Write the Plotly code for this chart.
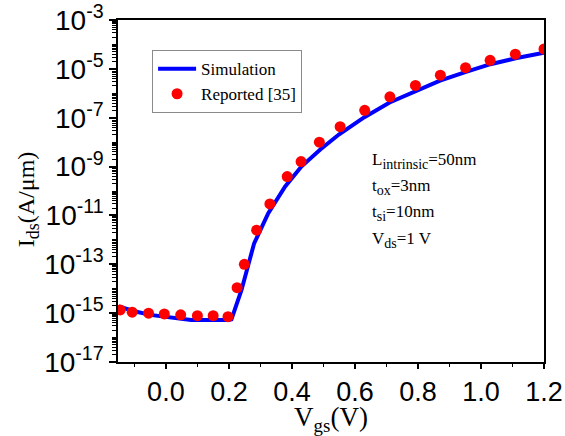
import plotly.graph_objects as go

# Reported drain current (A/um) vs gate voltage (V)
rep_vgs = [-0.145, -0.107, -0.055, -0.005, 0.047, 0.10, 0.15, 0.197, 0.226, 0.249,
           0.288, 0.330, 0.385, 0.429, 0.487, 0.553, 0.631, 0.711, 0.792, 0.871,
           0.951, 1.029, 1.109, 1.2]
rep_ids = [1.35e-15, 1.10e-15, 1.0e-15, 9.3e-16, 8.5e-16, 7.9e-16, 7.9e-16, 7.2e-16,
           1.1e-14, 1.0e-13, 2.5e-12, 2.95e-11, 3.9e-10, 1.6e-9, 1.0e-8, 4.3e-8,
           2.0e-7, 7.2e-7, 2.1e-6, 5.5e-6, 1.12e-5, 2.24e-5, 4.0e-5, 6.5e-5]

# Simulated transfer characteristic
sim_vgs = [-0.15, -0.10, -0.05, 0.0, 0.05, 0.08, 0.20, 0.208, 0.24, 0.28, 0.325,
           0.378, 0.43, 0.49, 0.55, 0.63, 0.71, 0.79, 0.87, 0.95, 1.03, 1.11, 1.2]
sim_ids = [1.9e-15, 1.2e-15, 8.5e-16, 6.9e-16, 5.8e-16, 5.2e-16, 5.2e-16, 5.6e-16,
           8.9e-15, 7.2e-13, 1.23e-11, 1.5e-10, 1.0e-9, 5.0e-9, 2.1e-8, 1.05e-7,
           4.2e-7, 1.2e-6, 3.3e-6, 7.4e-6, 1.55e-5, 2.7e-5, 4.6e-5]

x_ticks = [0.0, 0.2, 0.4, 0.6, 0.8, 1.0, 1.2]
y_exponents = [-3, -5, -7, -9, -11, -13, -15, -17]
y_major = [10.0 ** e for e in y_exponents]
y_labels = ["10<sup>%d</sup>" % e for e in y_exponents]
y_minor = [m * 10.0 ** e for e in range(-17, -3) for m in range(1, 10)]

SUB = "<sub><span style='font-size:14px'>%s</span></sub>"
device_notes = [
    "L" + SUB % "intrinsic" + "=50nm",
    "t" + SUB % "ox" + "=3nm",
    "t" + SUB % "si" + "=10nm",
    "V" + SUB % "ds" + "=1 V",
]

SERIF = "Liberation Serif, Times New Roman, serif"
SANS = "Liberation Sans, Arial, sans-serif"

fig = go.Figure()
fig.add_trace(go.Scatter(
    x=sim_vgs, y=sim_ids, mode="lines", name="Simulation",
    line=dict(color="#0000FF", width=4),
))
fig.add_trace(go.Scatter(
    x=rep_vgs, y=rep_ids, mode="markers", name="Reported [35]",
    marker=dict(color="#FF0000", size=11, line=dict(width=0)),
))

for i, note in enumerate(device_notes):
    fig.add_annotation(
        text=note, xref="paper", yref="paper",
        x=0.592, y=0.589 - i * 0.077, xanchor="left", yanchor="middle",
        showarrow=False, font=dict(family=SERIF, size=17, color="black"),
    )

# y-axis title, placed beside the tick labels
fig.add_annotation(
    text="I<sub><span style='font-size:18px'>ds</span></sub>(A/μm)",
    xref="paper", yref="paper", x=-0.212, y=0.475,
    xanchor="center", yanchor="middle", textangle=-90, showarrow=False,
    font=dict(family=SERIF, size=24, color="black"),
)

fig.update_layout(
    width=565, height=436,
    margin=dict(l=118, r=21, t=20, b=74),
    paper_bgcolor="white", plot_bgcolor="white",
    showlegend=True,
    legend=dict(
        x=0.08, y=0.912, xanchor="left", yanchor="top",
        bgcolor="white", bordercolor="#8a8a8a", borderwidth=1,
        font=dict(family=SERIF, size=17, color="black"),
        itemwidth=38, tracegroupgap=0,
    ),
    xaxis=dict(
        range=[-0.152, 1.2], tickmode="array", tickvals=x_ticks,
        tickformat=".1f", ticks="outside", ticklen=5, tickwidth=1.5,
        tickcolor="black", showline=True, linecolor="black", linewidth=1.5,
        mirror=True, showgrid=False, zeroline=False, automargin=False,
        tickfont=dict(family=SANS, size=27, color="black"),
        minor=dict(dtick=0.1, tick0=0, ticks="outside", ticklen=3,
                   tickwidth=1.2, tickcolor="black", showgrid=False),
        title=dict(text="V<sub>gs</sub>(V)", standoff=3,
                   font=dict(family=SERIF, size=27, color="black")),
    ),
    yaxis=dict(
        type="log", range=[-17, -3], tickmode="array",
        tickvals=y_major, ticktext=y_labels,
        ticks="outside", ticklen=7, tickwidth=1.5, tickcolor="black",
        showline=True, linecolor="black", linewidth=1.5, mirror=True,
        showgrid=False, zeroline=False, automargin=False,
        tickfont=dict(family=SANS, size=28, color="black"),
        minor=dict(tickmode="array", tickvals=y_minor, ticks="outside",
                   ticklen=4, tickwidth=1.2, tickcolor="black", showgrid=False),
    ),
)

fig.write_html("out.html")
